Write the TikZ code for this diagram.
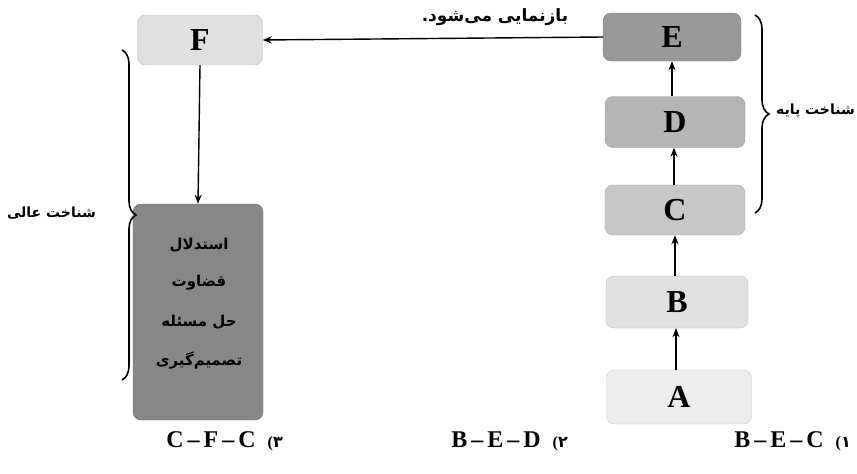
\documentclass[tikz,border=0pt]{standalone}
\usepackage{fontspec}
\setmainfont{Liberation Serif}
\newfontfamily\arabicfont[Script=Arabic]{DejaVu Sans}
\TeXXeTstate=1
\usetikzlibrary{arrows.meta,decorations.pathreplacing}
\tikzset{
  box/.style={rounded corners=8pt, draw=#1!85!black, line width=0.4pt, fill=#1, font=\fontsize{32}{36}\selectfont\bfseries, inner sep=0pt},
  arr/.style={line width=1.4pt, -{Stealth[length=9pt,width=7pt]}},
  fa/.style={font=\arabicfont\bfseries\fontsize{15}{17}\selectfont, inner sep=1pt},
  side/.style={font=\arabicfont\bfseries\fontsize{14}{16}\selectfont, inner sep=1pt},
  opt/.style={font=\fontsize{24}{28}\selectfont\bfseries, inner sep=0pt},
  brc/.style={decorate, decoration={brace, amplitude=14pt}, line width=1.6pt}
}
\begin{document}
\begin{tikzpicture}[x=1pt,y=-1pt]
\useasboundingbox (0,0) rectangle (857,474);
\colorlet{cF}{black!12}
\colorlet{cE}{black!40}
\colorlet{cD}{black!29}
\colorlet{cC}{black!22}
\colorlet{cB}{black!12}
\colorlet{cA}{black!7}
\colorlet{cG}{black!47}
\node[box=cF, minimum width=125pt, minimum height=50pt] (F) at (200,40) {F};
\node[box=cE, minimum width=138pt, minimum height=48pt] (E) at (672,37) {E};
\node[box=cD, minimum width=140pt, minimum height=51pt] (D) at (675,122) {D};
\node[box=cC, minimum width=140pt, minimum height=50pt] (C) at (675,210) {C};
\node[box=cB, minimum width=142pt, minimum height=52pt] (B) at (677,302) {B};
\node[box=cA, minimum width=145pt, minimum height=54pt] (A) at (679,397) {A};
\node[box=cG, minimum width=130pt, minimum height=216pt] (G) at (198,312) {};
\node[fa] (g1) at (199,245) {\beginR استدلال\endR};
\node[fa] (g2) at (199,283) {\beginR قضاوت\endR};
\node[fa] (g3) at (199,322) {\beginR حل مسئله\endR};
\node[fa] (g4) at (199,361) {\beginR تصمیم‌گیری\endR};
% arrows
\draw[arr] (E.west) -- (F.east);
\node[fa, font=\arabicfont\bfseries\fontsize{17}{19}\selectfont] (lab) at (495,17) {\beginR بازنمایی می‌شود.\endR};
\draw[arr] (F.south) -- (G.north);
\draw[arr] (A.north -| 676,0) -- (B.south -| 676,0);
\draw[arr] (B.north -| 675,0) -- (C.south -| 675,0);
\draw[arr] (C.north -| 674,0) -- (D.south -| 674,0);
\draw[arr] (D.north -| 672,0) -- (E.south -| 672,0);
% braces
\coordinate (rb1) at (755,15);
\coordinate (rb2) at (755,213);
\draw[brc] (rb1) -- (rb2);
\node[side, anchor=east] (basic) at (856,111) {\beginR شناخت پایه\endR};
\coordinate (lb1) at (122,380);
\coordinate (lb2) at (122,50);
\draw[brc] (lb2) -- (lb1);
\node[side, anchor=east] (high) at (97,213) {\beginR شناخت عالی\endR};
% options
\node[opt, anchor=east] (o1) at (851,441) {B\,–\,E\,–\,C\ \ {\fontsize{16}{18}\selectfont(}{\arabicfont\fontsize{16}{18}\selectfont ۱}};
\node[opt, anchor=east] (o2) at (568,441) {B\,–\,E\,–\,D\ \ {\fontsize{16}{18}\selectfont(}{\arabicfont\fontsize{16}{18}\selectfont ۲}};
\node[opt, anchor=east] (o3) at (283,441) {C\,–\,F\,–\,C\ \ {\fontsize{16}{18}\selectfont(}{\arabicfont\fontsize{16}{18}\selectfont ۳}};
\end{tikzpicture}
\end{document}
